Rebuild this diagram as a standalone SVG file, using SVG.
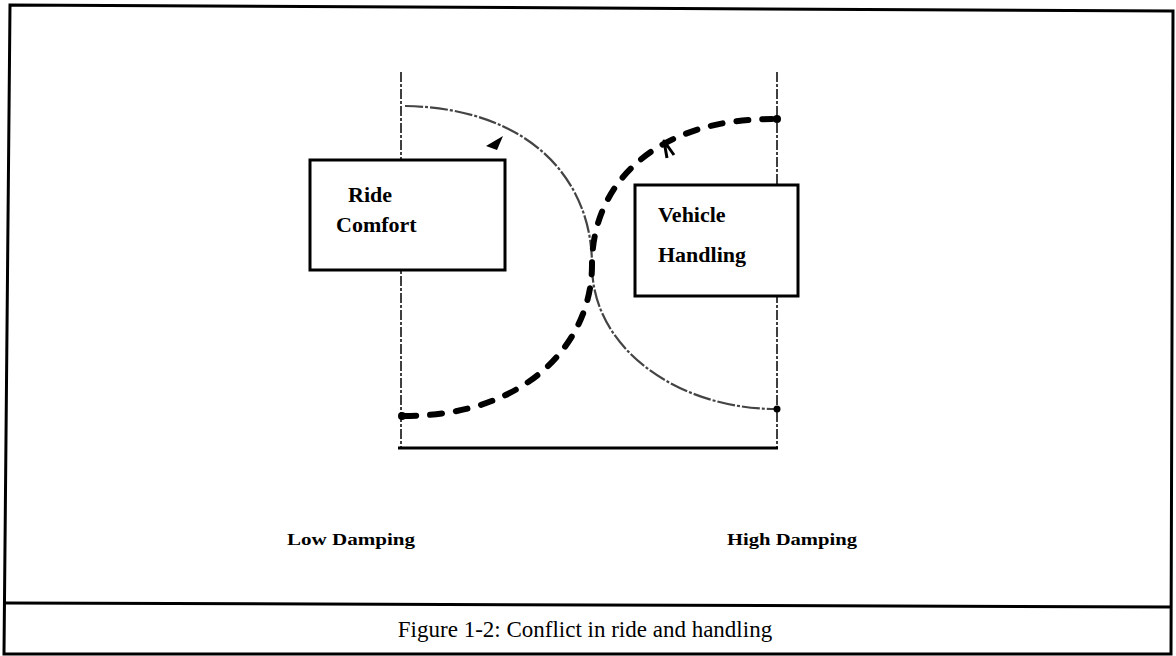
<svg xmlns="http://www.w3.org/2000/svg" width="1176" height="656" viewBox="0 0 1176 656">
<style>
.frame{fill:none;stroke:#000;stroke-width:3}
.axis{fill:none;stroke:#111;stroke-width:1.6;stroke-dasharray:10 2 3 2}
.base{fill:none;stroke:#000;stroke-width:3}
.thin{fill:none;stroke:#444;stroke-width:2.2;stroke-dasharray:18 2 3 2}
.thick{fill:none;stroke:#000;stroke-width:6;stroke-linecap:round;stroke-dasharray:12 14}
.box{fill:#fff;stroke:#000;stroke-width:3}
.lbl{font-family:"Liberation Serif",serif;font-weight:bold;font-size:22px;fill:#000}
.ax{font-family:"Liberation Serif",serif;font-weight:bold;font-size:17px;fill:#000}
.cap{font-family:"Liberation Serif",serif;font-size:23px;fill:#000}
</style>
<rect width="1176" height="656" fill="#fff"/>
<g id="frame">
<polygon class="frame" points="10,5 1173,11 1171,654 4,654"/>
<line class="frame" x1="5" y1="603" x2="1172" y2="607"/>
</g>
<g id="axes">
<line class="axis" x1="401" y1="72" x2="401" y2="447"/>
<line class="axis" x1="777" y1="72" x2="777" y2="447"/>
<line class="base" x1="398" y1="448" x2="778" y2="448"/>
</g>
<g id="connectors">
<path class="thin" d="M405,106 C530,108 592,180 592,265 C592,350 680,409 776,409"/>
<path class="thick" d="M404,416 C530,416 592,340 592,265 C592,180 660,119 772,119"/>
<circle cx="402" cy="416" r="4" fill="#000"/>
<circle cx="777" cy="119" r="4" fill="#000"/>
<circle cx="777" cy="409" r="3.5" fill="#000"/>
<path d="M486,146 L503,136 L497,150 Z" fill="#000"/>
<path d="M667,158 L664,141 L674,155" fill="none" stroke="#000" stroke-width="3" stroke-linejoin="round"/>
</g>
<g id="ride">
<rect class="box" x="310" y="160" width="195" height="110"/>
<text class="lbl" x="348" y="202">Ride</text>
<text class="lbl" x="336" y="232">Comfort</text>
</g>
<g id="handling">
<rect class="box" x="635" y="185" width="163" height="111"/>
<text class="lbl" x="658" y="222">Vehicle</text>
<text class="lbl" x="658" y="262">Handling</text>
</g>
<g id="labels">
<text class="ax" x="287" y="545" textLength="128" lengthAdjust="spacingAndGlyphs">Low Damping</text>
<text class="ax" x="727" y="545" textLength="130" lengthAdjust="spacingAndGlyphs">High Damping</text>
<text class="cap" x="585" y="637" text-anchor="middle">Figure 1-2: Conflict in ride and handling</text>
</g>
</svg>
